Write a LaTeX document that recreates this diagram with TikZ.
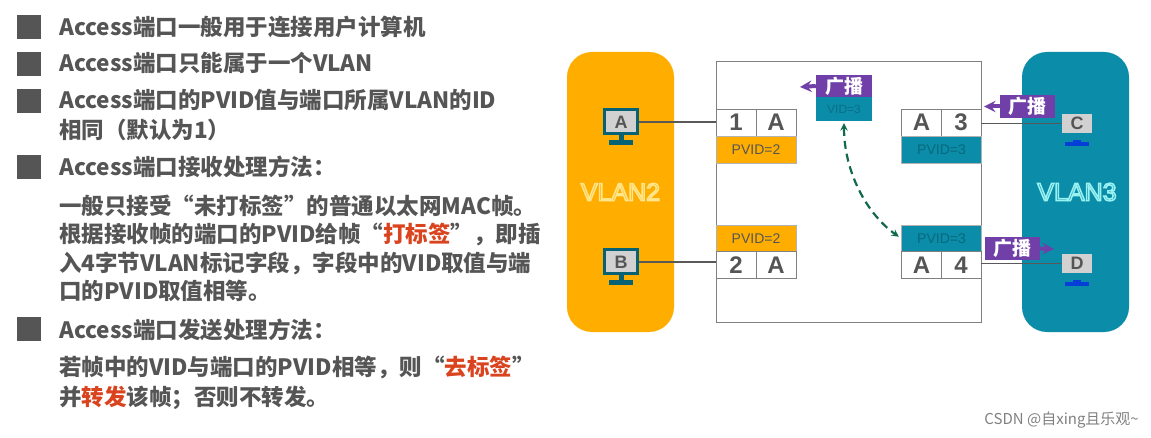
\documentclass[tikz,border=0pt]{standalone}
\usepackage{fontspec}
\setmainfont{Noto Sans CJK SC}
\setsansfont{Liberation Sans}
\usetikzlibrary{calc}
\definecolor{eorange}{HTML}{FFAE00}
\definecolor{eteal}{HTML}{0B8CA8}
\definecolor{epurple}{HTML}{7040A8}
\definecolor{etext}{HTML}{555555}
\definecolor{ered}{HTML}{D9431E}
\definecolor{egreen}{HTML}{11694F}
\newcommand{\outl}[2]{\special{pdf:code q 1 Tr 1.5 w #2 RG}#1\special{pdf:code Q}}
\tikzset{ebullet/.style={draw=none,fill=etext,inner sep=0pt,minimum size=24pt}}
\tikzset{eline/.style={anchor=base west,inner sep=0pt,text=etext,font=\fontsize{22.5}{22.5}\selectfont\bfseries}}
\tikzset{ecell/.style={draw=gray,fill=white,inner sep=0pt,minimum width=40pt,minimum height=27pt,text=etext,font=\fontsize{24}{24}\selectfont\sffamily\bfseries}}
\tikzset{epvid/.style={draw=gray!60,inner sep=0pt,minimum width=80pt,minimum height=26.5pt,font=\fontsize{14}{14}\selectfont\sffamily}}
\tikzset{ecast/.style={fill=epurple,inner sep=0pt,minimum width=55pt,minimum height=23pt,text=white,font=\fontsize{19}{19}\selectfont\bfseries}}
\tikzset{ecastline/.style={->,>=stealth,epurple,line width=4pt}}
\tikzset{elink/.style={draw=black!65,line width=1.2pt}}
\tikzset{evlan/.style={rounded corners=25pt,inner sep=0pt,minimum width=107pt,minimum height=280pt}}
\tikzset{epc/.style={inner sep=0pt,minimum width=33pt,minimum height=24pt,text=etext,font=\fontsize{18}{18}\selectfont\sffamily\bfseries}}
\begin{document}
\begin{tikzpicture}[x=1pt,y=-1pt]
  \useasboundingbox (0,0) rectangle (1151,438);

  \foreach \n/\y in {1/27.5,2/64,3/101,4/167,5/329}{
    \node[ebullet] (bullet\n) at (29,\y) {};
  }
  \foreach \n/\y/\txt in {
    1/36/{Access端口一般用于连接用户计算机},
    2/72/{Access端口只能属于一个VLAN},
    3/109/{Access端口的PVID值与端口所属VLAN的ID},
    4/139/{相同（默认为1）},
    5/176/{Access端口接收处理方法：},
    6/215/{一般只接受“未打标签”的普通以太网MAC帧。},
    7/243/{根据接收帧的端口的PVID给帧“\textcolor{ered}{打标签}”，即插},
    8/272/{入4字节VLAN标记字段，字段中的VID取值与端},
    9/300/{口的PVID取值相等。},
    10/338/{Access端口发送处理方法：},
    11/375/{若帧中的VID与端口的PVID相等，则“\textcolor{ered}{去标签}”},
    12/405/{并\textcolor{ered}{转发}该帧；否则不转发。}}{
    \node[eline] (line\n) at (59,\y) {\txt};
  }

  \node[evlan,fill=eorange] (vlan2) at (620.5,192) {};
  \node[evlan,fill=eteal] (vlan3) at (1075.5,192) {};
  \node[font=\fontsize{25}{25}\selectfont\sffamily,text=eorange] (vlan2text) at (620.5,192) {\outl{VLAN2}{1 0.9 0.55}};
  \node[font=\fontsize{25}{25}\selectfont\sffamily,text=eteal] (vlan3text) at (1077,192) {\outl{VLAN3}{0.6 0.95 0.95}};

  \draw[draw=gray,fill=white,line width=0.8pt] (716,61) rectangle (981,322);

  % ports on the left
  \node[ecell] (port1) at (736,122.5) {1};
  \node[ecell] (mac1) at (776,122.5) {A};
  \node[epvid,fill=eorange,text=etext] (pvid1) at (756,149.5) {PVID=2};
  \node[epvid,fill=eorange,text=etext] (pvid2) at (756,238.5) {PVID=2};
  \node[ecell] (port2) at (736,265) {2};
  \node[ecell] (mac2) at (776,265) {A};

  % ports on the right
  \node[ecell] (mac3) at (921.5,122.5) {A};
  \node[ecell] (port3) at (961,122.5) {3};
  \node[epvid,fill=eteal,text=black!25!eteal] (pvid3) at (941.5,149.5) {PVID=3};
  \node[epvid,fill=eteal,text=black!25!eteal] (pvid4) at (941.5,238.5) {PVID=3};
  \node[ecell] (mac4) at (921.5,265) {A};
  \node[ecell] (port4) at (961,265) {4};

  % computers
  \foreach \name/\y in {A/122,B/262}{
    \node[epc,draw=black!30!eteal,line width=3pt,fill=black!18] (pc\name) at (621,\y) {\name};
    \fill[black!30!eteal] ($(pc\name.south)+(-2.5,0)$) rectangle ($(pc\name.south)+(2.5,5)$);
    \fill[black!30!eteal] ($(pc\name.south)+(-12,5)$) rectangle ($(pc\name.south)+(12,10)$);
  }
  \foreach \name/\y in {C/123.5,D/263.5}{
    \node[epc,fill=black!18,minimum width=30pt,minimum height=19pt] (pc\name) at (1077,\y) {\name};
    \fill[blue!55!eteal] ($(pc\name.south)+(-4,7)$) rectangle ($(pc\name.south)+(4,9)$);
    \fill[blue!55!eteal] ($(pc\name.south)+(-12,9)$) rectangle ($(pc\name.south)+(12,13)$);
  }

  \draw[elink] (pcA.east) -- (pcA.east -| port1.west);
  \draw[elink] (pcB.east) -- (pcB.east -| port2.west);
  \draw[elink] (pcC.west -| port3.east) -- (pcC.west);
  \draw[elink] (pcD.west -| port4.east) -- (pcD.west);

  % frame in the switch
  \node[fill=eteal,inner sep=0pt,minimum width=56pt,minimum height=24pt,text=black!20!eteal,font=\fontsize{12}{12}\selectfont\sffamily] (vid) at (844,109) {VID=3};
  \node[ecast,minimum width=56pt,minimum height=22pt] (cast1) at (844,86) {广播};
  \node[ecast] (cast2) at (1027.5,106.5) {广播};
  \node[ecast] (cast3) at (1012.5,248.5) {广播};
  \coordinate (tip1) at (800,87);
  \coordinate (tip2) at (984,106.5);
  \coordinate (tip3) at (1054,249);
  \draw[ecastline] (cast1.west) -- (tip1);
  \draw[ecastline] (cast2.west) -- (tip2);
  \draw[ecastline] (cast3.east) -- (tip3);

  \draw[<->,>=stealth,egreen,line width=2.2pt,dash pattern=on 8pt off 5pt,shorten >=3pt,shorten <=2pt] (vid.south) .. controls +(0,50) and +(-35,-25) .. (pvid4.west);

  \node[anchor=base east,inner sep=0pt,text=black!50,font=\fontsize{15}{15}\selectfont] (mark) at (1139,424) {CSDN @自xing且乐观\textasciitilde};
\end{tikzpicture}
\end{document}
